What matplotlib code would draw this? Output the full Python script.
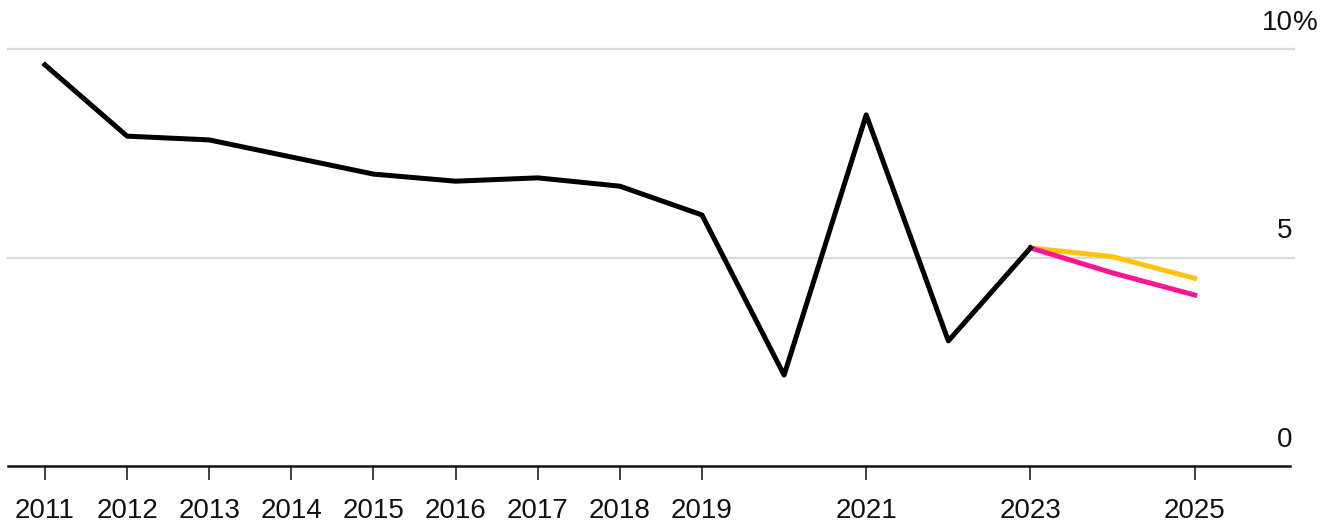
import matplotlib
matplotlib.use("Agg")
import matplotlib.pyplot as plt

plt.rcParams['font.family'] = ['Liberation Sans', 'DejaVu Sans']

# actual growth
years = [2011, 2012, 2013, 2014, 2015, 2016, 2017, 2018, 2019, 2020, 2021, 2022, 2023]
growth = [9.62, 7.91, 7.82, 7.41, 7.0, 6.83, 6.91, 6.71, 6.02, 2.18, 8.42, 3.0, 5.23]

# forecasts starting from 2023
fc_years = [2023, 2024, 2025]
fc_yellow = [5.23, 5.02, 4.5]
fc_pink = [5.23, 4.63, 4.1]

xticks = [2011, 2012, 2013, 2014, 2015, 2016, 2017, 2018, 2019, 2021, 2023, 2025]
yticks = [0, 5, 10]
ylabels = ["0", "5", "10"]

W, H = 1333, 526
fig = plt.figure(figsize=(W / 100, H / 100), dpi=100)
ax = fig.add_axes([8 / W, (H - 466) / H, (1290 - 8) / W, (466 - 49) / H])

ax.set_xlim(2010.55, 2026.16)
ax.set_ylim(0, 10)

# gridlines
for v in yticks[1:]:
    ax.axhline(v, xmin=0, xmax=1.003, color="#d9d9d9", lw=1.6, zorder=1, clip_on=False)

ax.plot(years, growth, color="black", lw=3.6, zorder=3)
ax.plot(fc_years, fc_yellow, color="#ffc20e", lw=3.6, zorder=2)
ax.plot(fc_years, fc_pink, color="#ff1493", lw=3.6, zorder=2)

for s in ["top", "right", "left"]:
    ax.spines[s].set_visible(False)
ax.spines["bottom"].set_linewidth(1.8)
ax.spines["bottom"].set_color("#111111")

ax.set_xticks(xticks)
ax.set_xticklabels([str(x) for x in xticks], fontsize=20, color="#111111")
ax.tick_params(axis="x", length=10, width=1.3, color="#333333", pad=13)
ax.set_yticks([])

# y labels sit above their gridline, numbers right-aligned, % hangs outside
for v, lab in zip(yticks, ylabels):
    ax.annotate(lab, xy=(1.0, v), xycoords=("axes fraction", "data"),
                xytext=(2, 14), textcoords="offset points",
                ha="right", va="baseline", fontsize=20, color="#111111",
                annotation_clip=False)
ax.annotate("%", xy=(1.0, yticks[-1]), xycoords=("axes fraction", "data"),
            xytext=(2, 14), textcoords="offset points",
            ha="left", va="baseline", fontsize=20, color="#111111",
            annotation_clip=False)

fig.savefig("out.png", dpi=100)
